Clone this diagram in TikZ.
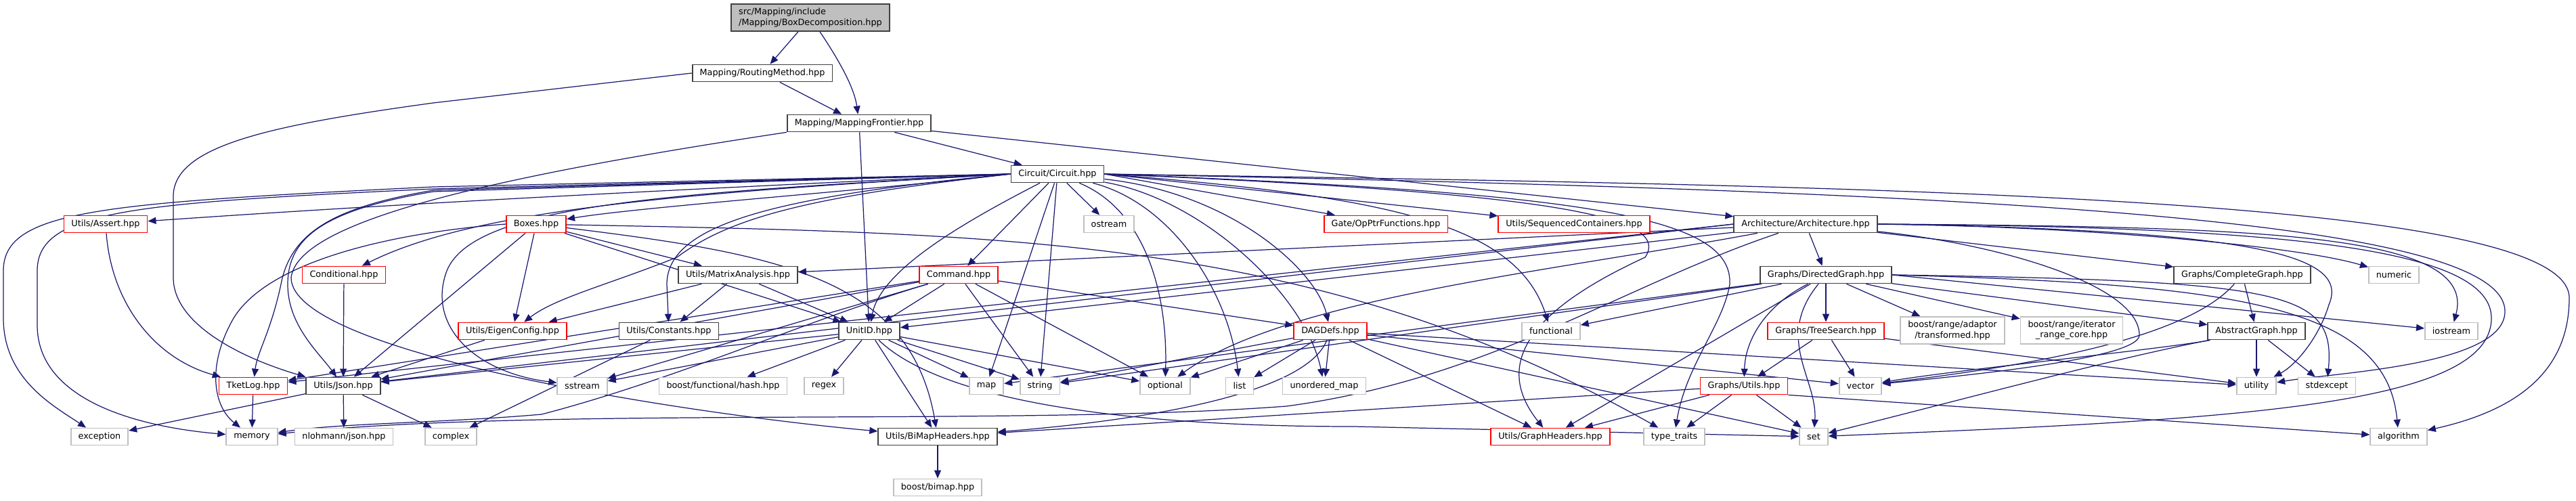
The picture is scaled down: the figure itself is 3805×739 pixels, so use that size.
\documentclass[tikz,border=0pt]{standalone}
\usepackage{fontspec}
\setmainfont{DejaVu Sans}
\usepackage{tikz}
\usetikzlibrary{arrows.meta,backgrounds}
\definecolor{edgeblue}{HTML}{191970}
\definecolor{docline}{HTML}{404040}
\definecolor{sysline}{HTML}{BFBFBF}
\definecolor{rootfill}{HTML}{BFBFBF}
\definecolor{cutline}{HTML}{FF0000}
\tikzset{
  >={Triangle[length=1.2mm,width=1mm]},
  file/.style={draw=docline,fill=white,line width=.5pt,minimum height=2.5mm,inner xsep=1.1mm,inner ysep=0pt,font=\fontsize{3.64}{4.3}\selectfont},
  rootfile/.style={file,fill=rootfill,align=left,minimum height=4mm},
  cutfile/.style={file,draw=cutline},
  sysfile/.style={file,draw=sysline},
  dep/.style={->,draw=edgeblue,line width=.35pt},
}

\begin{document}
\begin{tikzpicture}[x=0.01cm,y=-0.01cm]
  \useasboundingbox (0,0) rectangle (3805,739);
  \node[rootfile] (bd) at (1197,26) {src/Mapping/include\\/Mapping/BoxDecomposition.hpp};
  \node[file] (rm) at (1126,108) {Mapping/RoutingMethod.hpp};
  \node[file] (mf) at (1269,182) {Mapping/MappingFrontier.hpp};
  \node[file] (circ) at (1562,257) {Circuit/Circuit.hpp};
  \node[cutfile] (assert) at (156,331) {Utils/Assert.hpp};
  \node[cutfile] (boxes) at (792,331) {Boxes.hpp};
  \node[sysfile] (ostream) at (1638,331) {ostream};
  \node[cutfile] (opptr) at (2047,331) {Gate/OpPtrFunctions.hpp};
  \node[cutfile] (seqc) at (2325,331) {Utils/SequencedContainers.hpp};
  \node[file] (arch) at (2667,331) {Architecture/Architecture.hpp};
  \node[cutfile] (cond) at (508,406) {Conditional.hpp};
  \node[file] (matrix) at (1090,406) {Utils/MatrixAnalysis.hpp};
  \node[cutfile] (cmd) at (1416,406) {Command.hpp};
  \node[file] (dgraph) at (2697,406) {Graphs/DirectedGraph.hpp};
  \node[file] (cgraph) at (3312,406) {Graphs/CompleteGraph.hpp};
  \node[sysfile] (numeric) at (3536,406) {numeric};
  \node[cutfile] (eigen) at (757,489) {Utils/EigenConfig.hpp};
  \node[file] (consts) at (988,489) {Utils/Constants.hpp};
  \node[file] (unitid) at (1284,489) {UnitID.hpp};
  \node[cutfile] (dag) at (1965,489) {DAGDefs.hpp};
  \node[sysfile] (functional) at (2291,489) {functional};
  \node[cutfile] (tree) at (2697,489) {Graphs/TreeSearch.hpp};
  \node[sysfile,align=center,minimum height=4mm] (adaptor) at (2884,488) {boost/range/adaptor\\/transformed.hpp};
  \node[sysfile,align=center,minimum height=4mm] (irange) at (3060,488) {boost/range/iterator\\\_range\_core.hpp};
  \node[file] (agraph) at (3333,489) {AbstractGraph.hpp};
  \node[sysfile] (iostream) at (3621,489) {iostream};
  \node[cutfile] (tketlog) at (374,570) {TketLog.hpp};
  \node[file] (json) at (507,570) {Utils/Json.hpp};
  \node[sysfile] (sstream) at (860,570) {sstream};
  \node[sysfile] (hash) at (1068,570) {boost/functional/hash.hpp};
  \node[sysfile] (regex) at (1217,570) {regex};
  \node[sysfile] (map) at (1457,570) {map};
  \node[sysfile] (string) at (1536,570) {string};
  \node[sysfile] (optional) at (1721,570) {optional};
  \node[sysfile] (list) at (1831,570) {list};
  \node[sysfile] (umap) at (1956,570) {unordered\_map};
  \node[cutfile] (gutils) at (2576,570) {Graphs/Utils.hpp};
  \node[sysfile] (vector) at (2748,570) {vector};
  \node[sysfile] (utility) at (3333,570) {utility};
  \node[sysfile] (stdexcept) at (3437,570) {stdexcept};
  \node[sysfile] (exception) at (147,645) {exception};
  \node[sysfile] (memory) at (372,645) {memory};
  \node[sysfile] (nlohmann) at (508,645) {nlohmann/json.hpp};
  \node[sysfile] (complex) at (666,645) {complex};
  \node[file] (bimap) at (1385,645) {Utils/BiMapHeaders.hpp};
  \node[cutfile] (gheaders) at (2290,645) {Utils/GraphHeaders.hpp};
  \node[sysfile] (typetraits) at (2473,645) {type\_traits};
  \node[sysfile] (set) at (2679,645) {set};
  \node[sysfile] (algorithm) at (3543,645) {algorithm};
  \node[sysfile] (boostbimap) at (1385,720) {boost/bimap.hpp};
  \begin{scope}[on background layer]
    \fill[white] (0,0) rectangle (3805,739);
    \foreach \src/\dst in {bd/rm,rm/mf,mf/circ,mf/unitid,mf/arch,
      circ/ostream,circ/cmd,circ/map,circ/string,
      boxes/eigen,boxes/matrix,boxes/unitid,boxes/json,cond/json,
      matrix/eigen,matrix/consts,matrix/unitid,consts/complex,eigen/json,
      cmd/unitid,cmd/string,cmd/optional,cmd/dag,cmd/tketlog,cmd/json,cmd/sstream,
      unitid/sstream,unitid/hash,unitid/regex,unitid/map,unitid/string,unitid/optional,unitid/bimap,unitid/json,
      dag/umap,dag/list,dag/optional,dag/string,dag/gheaders,dag/vector,dag/set,dag/utility,
      dgraph/tree,dgraph/adaptor,dgraph/irange,dgraph/agraph,dgraph/gheaders,dgraph/functional,dgraph/map,dgraph/string,
      tree/gutils,tree/vector,tree/utility,
      gutils/set,gutils/gheaders,gutils/typetraits,gutils/bimap,
      agraph/utility,agraph/stdexcept,cgraph/agraph,
      arch/dgraph,arch/cgraph,arch/unitid,arch/matrix,
      json/exception,json/nlohmann,json/complex,tketlog/memory,bimap/boostbimap}
      {\draw[dep] (\src) -- (\dst);}
    \draw[dep] (bd) .. controls (1240,90) and (1262,130) .. (mf);
    \draw[dep] (rm.west) -- (640,152) .. controls (400,185) and (256,215) .. (256,290) -- (256,410) .. controls (256,480) and (360,530) .. (json.north west);
    \draw[dep] (mf.south west) .. controls (700,265) and (440,330) .. (430,410) .. controls (430,520) and (1000,610) .. (bimap);
    \draw[dep] (circ.west) -- (640,276) .. controls (150,300) and (5,310) .. (5,400) -- (5,470) .. controls (5,560) and (80,600) .. (exception);
    \draw[dep] (circ.west) -- (640,279) .. controls (200,300) and (55,310) .. (55,400) -- (55,480) .. controls (55,590) and (200,630) .. (memory);
    \draw[dep] (circ.west) -- (640,281) .. controls (500,305) and (430,340) .. (415,420) .. controls (400,490) and (380,520) .. (tketlog);
    \draw[dep] (circ.west) -- (640,283) .. controls (480,310) and (425,350) .. (425,420) .. controls (425,480) and (470,520) .. (json);
    \draw[dep] (circ.west) .. controls (1000,280) and (600,300) .. (assert);
    \draw[dep] (circ.west) .. controls (1300,280) and (950,305) .. (boxes);
    \draw[dep] (circ.west) .. controls (1000,285) and (700,310) .. (cond);
    \draw[dep] (circ.west) .. controls (1000,285) and (700,300) .. (660,400) .. controls (630,480) and (700,550) .. (sstream);
    \draw[dep] (circ.west) .. controls (1200,290) and (1080,320) .. (1000,380) .. controls (900,420) and (820,440) .. (eigen);
    \draw[dep] (circ.west) .. controls (1150,290) and (985,330) .. (985,420) -- (consts);
    \draw[dep] (circ) .. controls (1420,330) and (1300,400) .. (unitid);
    \draw[dep] (circ) .. controls (1690,310) and (1725,430) .. (optional);
    \draw[dep] (circ) .. controls (1730,300) and (1815,430) .. (list);
    \draw[dep] (circ) .. controls (1780,295) and (1930,440) .. (umap);
    \draw[dep] (circ) .. controls (1820,285) and (1945,400) .. (dag);
    \draw[dep] (circ.east) -- (opptr);
    \draw[dep] (circ.east) -- (seqc);
    \draw[dep] (circ.east) .. controls (2050,290) and (2240,330) .. (functional);
    \draw[dep] (circ.east) .. controls (2300,285) and (2470,320) .. (2430,380) .. controls (2300,440) and (2190,520) .. (gheaders);
    \draw[dep] (circ.east) .. controls (2350,285) and (2560,320) .. (2555,420) .. controls (2545,480) and (2490,540) .. (typetraits);
    \draw[dep] (circ.east) .. controls (2800,275) and (3795,290) .. (3795,440) .. controls (3795,560) and (3700,610) .. (algorithm);
    \draw[dep] (circ.east) .. controls (2900,282) and (3700,320) .. (3700,460) .. controls (3700,540) and (3450,550) .. (utility);
    \draw[dep] (boxes.west) .. controls (600,342) and (400,380) .. (345,470) .. controls (305,540) and (315,600) .. (memory);
    \draw[dep] (boxes) .. controls (1150,375) and (1345,410) .. (bimap);
    \draw[dep] (boxes) .. controls (1500,345) and (1950,350) .. (typetraits);
    \draw[dep] (assert) .. controls (165,450) and (230,530) .. (tketlog);
    \draw[dep] (cmd) .. controls (1200,470) and (1000,560) .. (800,612) .. controls (650,625) and (500,625) .. (memory);
    \draw[dep] (unitid) .. controls (1400,600) and (1700,630) .. (2000,630) -- (set);
    \draw[dep] (dag) .. controls (1930,580) and (1700,620) .. (bimap);
    \draw[dep] (dgraph) .. controls (2610,450) and (2578,500) .. (gutils);
    \draw[dep] (dgraph) .. controls (2620,500) and (2685,560) .. (set);
    \draw[dep] (dgraph.east) .. controls (3380,415) and (3450,430) .. (stdexcept);
    \draw[dep] (dgraph.east) .. controls (3300,420) and (3525,450) .. (algorithm);
    \draw[dep] (dgraph.east) -- (iostream);
    \draw[dep] (gutils.south east) -- (algorithm);
    \draw[dep] (cgraph) .. controls (3230,500) and (3000,540) .. (vector);
    \draw[dep] (agraph) .. controls (3200,515) and (2900,545) .. (vector);
    \draw[dep] (agraph) .. controls (3120,530) and (2900,590) .. (set);
    \draw[dep] (arch.west) -- (tketlog);
    \draw[dep] (arch.west) -- (json);
    \draw[dep] (arch) .. controls (2300,400) and (1900,440) .. (optional);
    \draw[dep] (arch) .. controls (2950,360) and (3160,420) .. (3160,495) .. controls (3160,530) and (2900,555) .. (vector);
    \draw[dep] (arch.east) .. controls (3400,335) and (3680,370) .. (3680,470) .. controls (3680,600) and (3300,620) .. (set);
    \draw[dep] (arch.east) .. controls (3350,340) and (3470,380) .. (3440,450) .. controls (3425,500) and (3390,540) .. (utility);
    \draw[dep] (arch.east) .. controls (3350,335) and (3660,345) .. (iostream);
    \draw[dep] (arch.east) .. controls (3100,335) and (3400,365) .. (numeric);
    \draw[dep] (arch) .. controls (2400,420) and (2200,560) .. (1900,600) .. controls (1500,630) and (800,600) .. (memory);
  \end{scope}
\end{tikzpicture}
\end{document}
